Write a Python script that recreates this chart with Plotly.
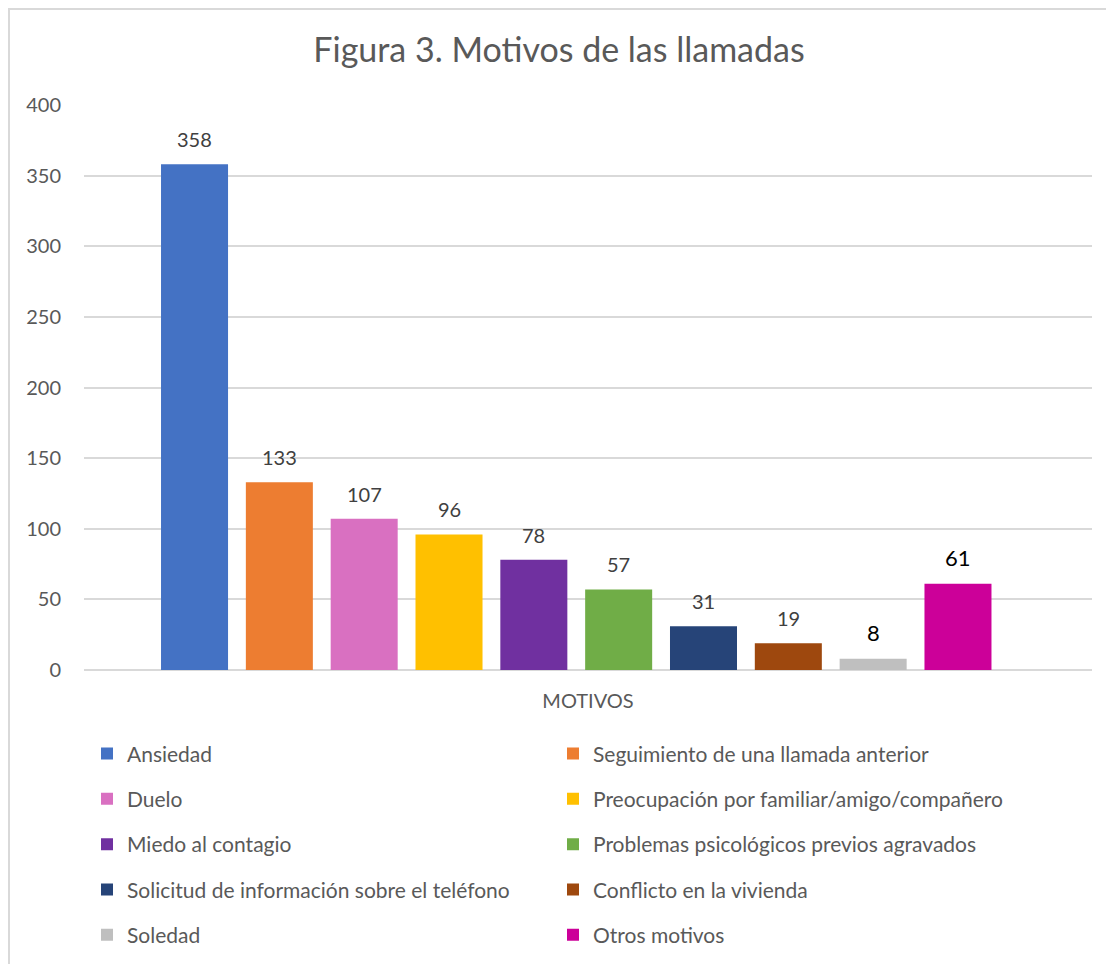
import plotly.graph_objects as go

# ---- data ----
motivos = [
    "Ansiedad",
    "Seguimiento de una llamada anterior",
    "Duelo",
    "Preocupación por familiar/amigo/compañero",
    "Miedo al contagio",
    "Problemas psicológicos previos agravados",
    "Solicitud de información sobre el teléfono",
    "Conflicto en la vivienda",
    "Soledad",
    "Otros motivos",
]
llamadas = [358, 133, 107, 96, 78, 57, 31, 19, 8, 61]
y_ticks = [0, 50, 100, 150, 200, 250, 300, 350, 400]

# ---- styles ----
colores = ["#4472C4", "#ED7D31", "#D970C1", "#FFC000", "#7030A0",
           "#70AD47", "#264478", "#9E480E", "#BFBFBF", "#CC0099"]
label_colors = ["#404040"] * 8 + ["#000000", "#000000"]
label_sizes = [20] * 8 + [22, 22]
FONT = "Lato, 'Open Sans', sans-serif"
GREY = "#595959"

# page body has an 8px margin, so the figure is offset by 8px
L, R, T, B = 76, 30, 97, 302
PW = 1114 - L - R
PH = 964 - T - B

fig = go.Figure()
for i, (name, val) in enumerate(zip(motivos, llamadas)):
    fig.add_trace(go.Bar(
        x=[name], y=[val], name=name,
        marker=dict(color=colores[i], line=dict(width=0)),
        width=0.79,
        legend="legend" if i % 2 == 0 else "legend2",
        legendgroup=name,
        hoverinfo="name+y",
    ))
    fig.add_annotation(
        x=name, y=val, xref="x", yref="y",
        text=str(val), showarrow=False,
        yanchor="middle", yshift=25 if i < 8 else 26,
        font=dict(family=FONT, size=label_sizes[i], color=label_colors[i]),
    )

# chart border (Excel chart area)
fig.add_shape(type="rect", xref="paper", yref="paper",
              x0=(1 - L) / PW, x1=(1114 - L + 20) / PW,
              y0=-(964 - T - PH + 40) / PH, y1=(T + PH - 1) / PH,
              line=dict(color="#D9D9D9", width=2), layer="below")

legend_common = dict(
    orientation="v", yanchor="top", xanchor="left",
    font=dict(family=FONT, size=21, color=GREY),
    bgcolor="rgba(0,0,0,0)", tracegroupgap=15, itemclick=False,
)

fig.update_layout(
    width=1114, height=964,
    margin=dict(l=L, r=R, t=T, b=B),
    paper_bgcolor="white", plot_bgcolor="white",
    barmode="overlay",
    title=dict(text="Figura 3. Motivos de las llamadas",
               x=551 / 1114, xanchor="center", y=1 - 42 / 964, yanchor="middle",
               font=dict(family=FONT, size=34, color=GREY)),
    font=dict(family=FONT, color=GREY),
    xaxis=dict(
        range=[-1.303, 10.58], showticklabels=False, showgrid=False,
        zeroline=False, showline=False, ticks="", fixedrange=True,
        title=dict(text="MOTIVOS", standoff=23,
                   font=dict(family=FONT, size=20, color=GREY)),
    ),
    yaxis=dict(
        range=[0, 400], tickvals=y_ticks, showgrid=True,
        gridcolor="#D9D9D9", gridwidth=1.5, zeroline=True,
        zerolinecolor="#D9D9D9", zerolinewidth=1.5, showline=False,
        ticks="", ticklabelstandoff=22,
        tickfont=dict(family=FONT, size=20, color=GREY), fixedrange=True,
    ),
    legend=dict(x=3 / PW, y=-0.1122, **legend_common),
    legend2=dict(x=(550 - 84 + 3) / PW, y=-0.1122, **legend_common),
    showlegend=True,
)

fig.write_html("out.html")
